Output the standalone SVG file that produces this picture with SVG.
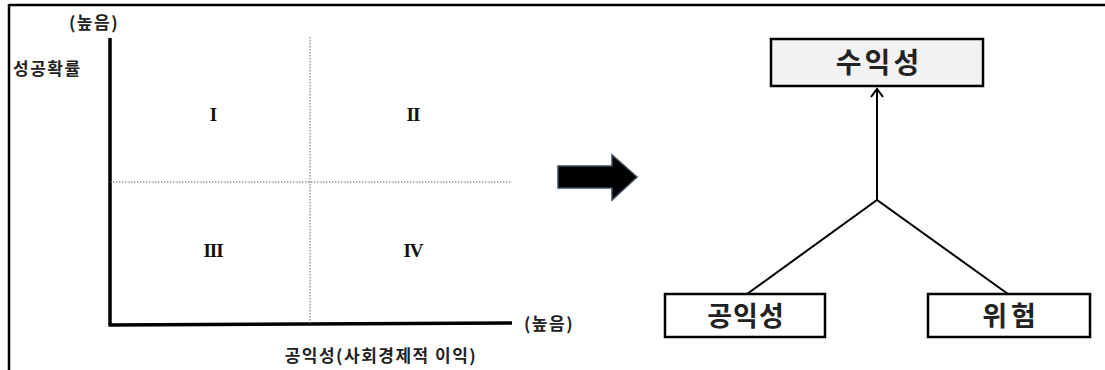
<svg xmlns="http://www.w3.org/2000/svg" width="1105" height="370" viewBox="0 0 1105 370">
<style>
.ko{font-family:"Noto Sans CJK KR","Noto Sans",sans-serif;font-weight:bold;fill:#222}
.sm{font-size:17px;letter-spacing:1.5px}
.rn{font-family:"Liberation Serif","DejaVu Serif",serif;font-weight:bold;font-size:19px;fill:#111;letter-spacing:-1px}
.axis{stroke:#000;stroke-width:3.5;fill:none}
.dot{stroke:#666;stroke-width:1;stroke-dasharray:1.5 1.5;fill:none}
.box{stroke:#000;stroke-width:2.5}
.conn{stroke:#000;stroke-width:2;fill:none}
</style>
<defs>
<marker id="open" viewBox="0 0 12 14" refX="10" refY="7" markerWidth="12" markerHeight="14" markerUnits="userSpaceOnUse" orient="auto">
<path d="M2,1 L10,7 L2,13" fill="none" stroke="#000" stroke-width="2"/>
</marker>
</defs>
<rect width="1105" height="370" fill="#fff"/>
<g id="frame">
<line x1="9" y1="5" x2="1105" y2="5" stroke="#000" stroke-width="2.5"/>
<line x1="9" y1="4" x2="9" y2="370" stroke="#000" stroke-width="2.5"/>
</g>
<g id="chart">
<line class="axis" x1="110" y1="38" x2="110" y2="325"/>
<line class="axis" x1="108.5" y1="325" x2="512" y2="323"/>
<line class="dot" x1="310" y1="37" x2="310" y2="325"/>
<line class="dot" x1="110" y1="182" x2="512" y2="182"/>
<text class="rn" x="213" y="121" text-anchor="middle">I</text>
<text class="rn" x="413" y="121" text-anchor="middle">II</text>
<text class="rn" x="213" y="257" text-anchor="middle">III</text>
<text class="rn" x="413" y="257" text-anchor="middle">IV</text>
<text class="ko sm" x="94" y="29" text-anchor="middle">(높음)</text>
<text class="ko sm" x="13" y="75">성공확률</text>
<text class="ko sm" x="549" y="330" text-anchor="middle">(높음)</text>
<text class="ko sm" x="381" y="362" text-anchor="middle">공익성(사회경제적 이익)</text>
</g>
<g id="bigArrow">
<path d="M558,166 L612,166 L612,155 L637,177 L612,200 L612,188 L558,188 Z" fill="#000" stroke="#3a4a5c" stroke-width="1.5"/>
</g>
<g id="node-profit">
<rect class="box" x="771" y="39" width="212" height="47" fill="#f2f2f2"/>
<text class="ko" x="879" y="73" font-size="28" letter-spacing="3" text-anchor="middle" fill="#111">수익성</text>
</g>
<g id="node-public">
<rect class="box" x="665" y="294" width="160" height="43" fill="#fff"/>
<text class="ko" x="746" y="326" font-size="27" letter-spacing="1" text-anchor="middle">공익성</text>
</g>
<g id="node-risk">
<rect class="box" x="928" y="294" width="162" height="43" fill="#fff"/>
<text class="ko" x="1011" y="326" font-size="27" letter-spacing="4" text-anchor="middle">위험</text>
</g>
<g id="connectors">
<line class="conn" x1="877" y1="200" x2="877" y2="89" marker-end="url(#open)"/>
<polyline class="conn" points="747,294 877,200 1008,294"/>
</g>
</svg>
